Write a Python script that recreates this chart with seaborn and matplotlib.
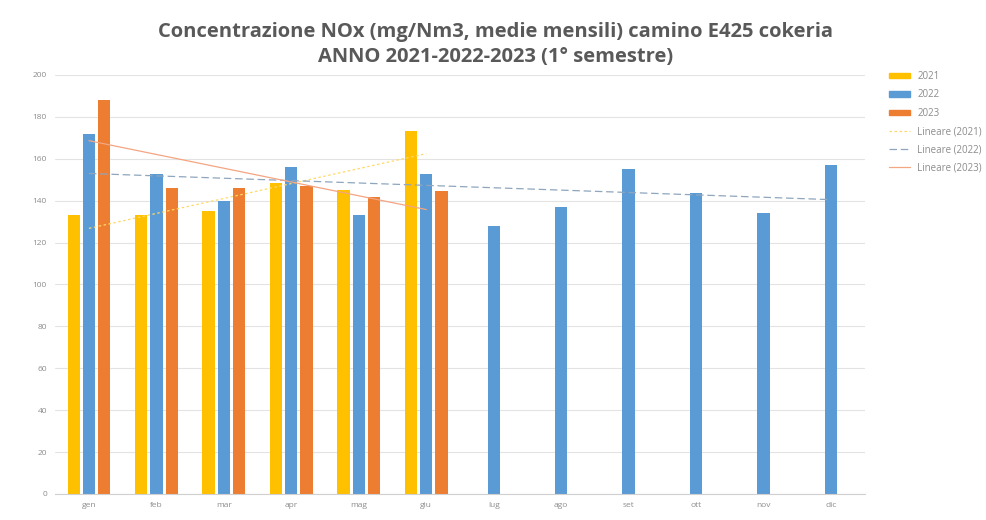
import numpy as np
import pandas as pd
import matplotlib.pyplot as plt
import seaborn as sns
from matplotlib.patches import Patch
from matplotlib.lines import Line2D

# monthly means (mg/Nm3)
months = ["gen", "feb", "mar", "apr", "mag", "giu", "lug", "ago", "set", "ott", "nov", "dic"]
years = ["2021", "2022", "2023"]
nox_2021 = [133, 133, 135, 148.5, 145, 173]
nox_2022 = [172, 152.5, 140, 156, 133, 152.5, 128, 137, 155, 143.5, 134, 157]
nox_2023 = [188, 146, 146, 147, 141.5, 144.5]
colors = ["#FFC000", "#5B9BD5", "#ED7D31"]

rows = []
for year, vals in zip(years, [nox_2021, nox_2022, nox_2023]):
    for m, v in zip(months, vals):
        rows.append({"mese": m, "anno": year, "nox": v})
df = pd.DataFrame(rows)

sns.set_style("white")
plt.rcParams["font.family"] = ["Open Sans", "DejaVu Sans"]

fig, ax = plt.subplots(figsize=(9.86, 5.2), dpi=100)
fig.subplots_adjust(left=0.056, right=0.877, top=0.856, bottom=0.05)

sns.barplot(data=df, x="mese", y="nox", hue="anno", order=months, hue_order=years,
            palette=colors, width=0.68, gap=0.2, ax=ax, legend=False,
            saturation=1, errorbar=None, linewidth=0)

# linear trendlines (Excel "Lineare")
trend_styles = [("#FFD966", (0, (2, 2))), ("#8FA6BD", (0, (6, 3))), ("#F4A582", "-")]
for vals, (c, ls) in zip([nox_2021, nox_2022, nox_2023], trend_styles):
    x = np.arange(len(vals))
    k, b = np.polyfit(x, vals, 1)
    ax.plot(x, k * x + b, color=c, linestyle=ls, linewidth=0.9, zorder=3)

ax.set_ylim(0, 200)
ax.set_xlim(-0.5, 11.5)
ax.set_yticks(range(0, 201, 20))
ax.yaxis.grid(True, color="#E3E3E3", linewidth=0.8)
ax.set_axisbelow(True)
for s in ["top", "right", "left"]:
    ax.spines[s].set_visible(False)
ax.spines["bottom"].set_color("#D0D0D0")
ax.tick_params(axis="both", length=0, labelsize=6, colors="#8C8C8C", pad=6)
ax.set_xlabel("")
ax.set_ylabel("")

fig.suptitle("Concentrazione NOx (mg/Nm3, medie mensili) camino E425 cokeria\n"
             "ANNO 2021-2022-2023 (1° semestre)",
             x=0.503, y=0.957, fontsize=14.5, fontweight="bold", color="#595959", linespacing=1.3)

# legend on the right, partially cut by the figure edge
handles = [Patch(color=c) for c in colors]
handles += [Line2D([0], [0], color=c, linestyle=ls, linewidth=0.9) for c, ls in trend_styles]
labels = years + [f"Lineare ({y})" for y in years]
fig.legend(handles, labels, loc="upper left", bbox_to_anchor=(0.893, 0.88), frameon=False,
           fontsize=7, labelcolor="#8C8C8C", handlelength=2.1, handleheight=0.5,
           labelspacing=0.75, handletextpad=0.8)

fig.savefig("out.png", dpi=100)
